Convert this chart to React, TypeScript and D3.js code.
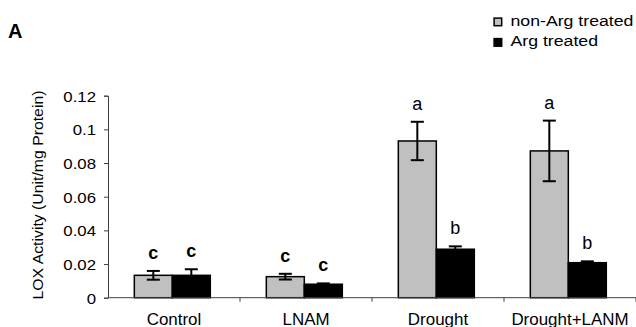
import React from "react";
import { scaleLinear, scaleBand, axisLeft, select } from "d3";

const categories = ["Control", "LNAM", "Drought", "Drought+LANM"];
const seriesNames = ["non-Arg treated", "Arg treated"];
const nonArgMeans = [0.0133, 0.0125, 0.0931, 0.0872];
const nonArgErrors = [0.0026, 0.0017, 0.0114, 0.018];
const argMeans = [0.0133, 0.008, 0.0288, 0.0208];
const argErrors = [0.0036, 0.0005, 0.0017, 0.0008];
const nonArgLetters = ["c", "c", "a", "a"];
const argLetters = ["c", "c", "b", "b"];
const yTicks = [0, 0.02, 0.04, 0.06, 0.08, 0.1, 0.12];

const FONT = "'Liberation Sans', Arial, sans-serif";
const GREY = "#c0c0c0";
const AXIS = "#404040";

export default function App() {
  const width = 636;
  const height = 327;
  const plot = { left: 108, right: 636, top: 95.7, bottom: 297.7 };

  const xScale = scaleBand()
    .domain(categories)
    .range([plot.left, plot.right])
    .padding(0);

  const inner = scaleBand()
    .domain(seriesNames)
    .range([0, xScale.bandwidth()])
    .paddingInner(0)
    .paddingOuter(0.737)
    .align(0.47);

  const yScale = scaleLinear().domain([0, 0.12]).range([plot.bottom, plot.top]);

  const series = [
    { name: seriesNames[0], means: nonArgMeans, errs: nonArgErrors, letters: nonArgLetters, fill: GREY, bold: false },
    { name: seriesNames[1], means: argMeans, errs: argErrors, letters: argLetters, fill: "#000", bold: false },
  ];

  const yAxisRef = (el: SVGGElement | null) => {
    if (!el) return;
    const g = select(el);
    g.selectAll("*").remove();
    g.call(
      axisLeft(yScale)
        .tickValues(yTicks)
        .tickSize(4)
        .tickPadding(8)
        .tickFormat((d: any) => String(+(+d).toFixed(2)))
    );
    g.select(".domain").attr("stroke", AXIS).attr("stroke-width", 1);
    g.selectAll(".tick line").attr("stroke", AXIS);
    const sx = 1.12;
    g.selectAll(".tick text")
      .attr("font-family", FONT)
      .attr("font-size", 15)
      .attr("fill", "#000")
      .attr("x", -12 / sx)
      .attr("dy", "0.36em")
      .attr("transform", `scale(${sx},1)`);
  };

  const capW = 13;

  return (
    <svg
      width={width}
      height={height}
      style={{ position: "absolute", left: 0, top: 0, background: "#fff" }}
    >
      {/* panel letter */}
      <text x={8} y={38.3} fontFamily={FONT} fontSize={20} fontWeight="bold">
        A
      </text>

      {/* legend */}
      {series.map((s, i) => (
        <g key={s.name} transform={`translate(493.5, ${17.5 + i * 20.5})`}>
          <rect
            x={0.6}
            y={0.6}
            width={7.6}
            height={7.6}
            fill={s.fill}
            stroke="#000"
            strokeWidth={1.5}
          />
          <text
            transform="translate(17,8.4) scale(1.18,1)"
            fontFamily={FONT}
            fontSize={15}
          >
            {s.name}
          </text>
        </g>
      ))}

      {/* y axis title */}
      <text
        transform="translate(42.7,195) rotate(-90) scale(1.09,1)"
        textAnchor="middle"
        fontFamily={FONT}
        fontSize={14.5}
      >
        LOX Activity (Unit/mg Protein)
      </text>

      {/* bars */}
      {series.map((s) =>
        categories.map((c, i) => {
          const x0 = (xScale(c) as number) + (inner(s.name) as number);
          const bw = inner.bandwidth();
          const yTop = yScale(s.means[i]);
          return (
            <rect
              key={s.name + c}
              x={x0}
              y={yTop}
              width={bw}
              height={plot.bottom - yTop}
              fill={s.fill}
              stroke="#000"
              strokeWidth={1.5}
            />
          );
        })
      )}

      {/* error bars + letters */}
      {series.map((s) =>
        categories.map((c, i) => {
          const cx = (xScale(c) as number) + (inner(s.name) as number) + inner.bandwidth() / 2;
          const yHi = yScale(s.means[i] + s.errs[i]);
          const yLo = yScale(s.means[i] - s.errs[i]);
          return (
            <g key={"e" + s.name + c}>
              <line x1={cx} x2={cx} y1={yHi} y2={yLo} stroke="#000" strokeWidth={2} />
              <line x1={cx - capW / 2} x2={cx + capW / 2} y1={yHi} y2={yHi} stroke="#000" strokeWidth={2} />
              <line x1={cx - capW / 2} x2={cx + capW / 2} y1={yLo} y2={yLo} stroke="#000" strokeWidth={2} />
              <text
                x={cx}
                y={yHi - 12}
                textAnchor="middle"
                fontFamily={FONT}
                fontSize={18}
                fontWeight={s.letters[i] === "c" ? "bold" : "normal"}
              >
                {s.letters[i]}
              </text>
            </g>
          );
        })
      )}

      {/* x axis */}
      <g>
        <line x1={plot.left} x2={plot.right} y1={plot.bottom} y2={plot.bottom} stroke={AXIS} strokeWidth={1} />
        {categories.map((c) => {
          const xb = (xScale(c) as number) + xScale.bandwidth();
          return (
            <line key={"t" + c} x1={xb} x2={xb} y1={plot.bottom} y2={plot.bottom + 4} stroke={AXIS} strokeWidth={1} />
          );
        })}
        {categories.map((c) => {
          const cx = (xScale(c) as number) + xScale.bandwidth() / 2;
          return (
            <text
              key={"l" + c}
              transform={`translate(${cx},325) scale(1.06,1)`}
              textAnchor="middle"
              fontFamily={FONT}
              fontSize={16}
            >
              {c}
            </text>
          );
        })}
      </g>

      <g ref={yAxisRef} transform={`translate(${plot.left},0)`} />
    </svg>
  );
}
